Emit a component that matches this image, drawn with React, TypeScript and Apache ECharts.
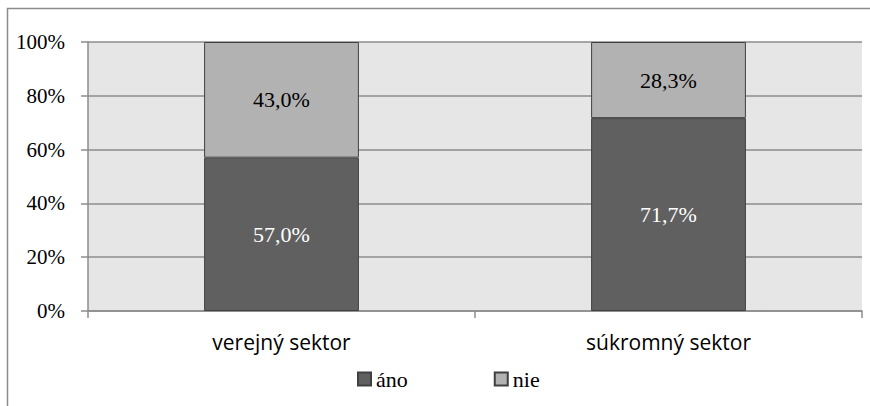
import React, { useEffect, useRef } from "react";
import * as echarts from "echarts";

const categories = ["verejný sektor", "súkromný sektor"];
const anoValues = [57.0, 71.7];
const nieValues = [43.0, 28.3];
const seriesNames = ["áno", "nie"];

const SERIF = "Liberation Serif";
const fmt = (v: number) => v.toFixed(1).replace(".", ",") + "%";

export default function App() {
  const ref = useRef<HTMLDivElement>(null);
  useEffect(() => {
    if (!ref.current) return;
    const chart = echarts.init(ref.current, null, { renderer: "svg" });
    chart.setOption({
      animation: false,
      backgroundColor: "#ffffff",
      graphic: [
        {
          type: "rect",
          shape: { x: 7.5, y: 8.5, width: 900, height: 500 },
          style: { fill: "none", stroke: "#8c8c8c", lineWidth: 1.5 },
          silent: true,
        },
      ],
      grid: {
        left: 88,
        right: 8,
        top: 42,
        bottom: 95,
        show: true,
        backgroundColor: "#e6e6e6",
        borderWidth: 0,
      },
      legend: {
        data: seriesNames,
        top: 368,
        left: 352,
        padding: [0, 5],
        itemWidth: 13,
        itemHeight: 13,
        itemGap: 86,
        icon: "rect",
        textStyle: { fontFamily: SERIF, fontSize: 22, color: "#000" },
      },
      xAxis: {
        type: "category",
        data: categories,
        axisLine: { lineStyle: { color: "#8c8c8c", width: 1.5 } },
        axisTick: { show: true, length: 7, lineStyle: { color: "#8c8c8c", width: 1.5 } },
        axisLabel: {
          fontFamily: "Open Sans",
          fontSize: 21,
          color: "#000",
          margin: 20,
        },
      },
      yAxis: {
        type: "value",
        min: 0,
        max: 100,
        interval: 20,
        axisLine: { show: true, lineStyle: { color: "#8c8c8c", width: 1.5 } },
        axisTick: { show: true, length: 7, lineStyle: { color: "#8c8c8c", width: 1.5 } },
        splitLine: { show: true, lineStyle: { color: "#8c8c8c", width: 1.5 } },
        axisLabel: {
          formatter: "{value}%",
          fontFamily: SERIF,
          fontSize: 21,
          color: "#000",
          margin: 23,
        },
      },
      series: [
        {
          name: seriesNames[0],
          type: "bar",
          stack: "total",
          data: anoValues,
          barWidth: "40%",
          itemStyle: { color: "#606060", borderColor: "#404040", borderWidth: 1 },
          label: {
            show: true,
            position: "inside",
            formatter: (p: any) => fmt(p.value),
            fontFamily: SERIF,
            fontSize: 22,
            color: "#ffffff",
          },
        },
        {
          name: seriesNames[1],
          type: "bar",
          stack: "total",
          data: nieValues,
          barWidth: "40%",
          itemStyle: { color: "#b2b2b2", borderColor: "#404040", borderWidth: 1 },
          label: {
            show: true,
            position: "inside",
            formatter: (p: any) => fmt(p.value),
            fontFamily: SERIF,
            fontSize: 22,
            color: "#000000",
          },
        },
      ],
    });
    return () => chart.dispose();
  }, []);
  return (
    <div
      ref={ref}
      style={{ position: "absolute", left: 0, top: 0, width: 870, height: 406 }}
    />
  );
}
